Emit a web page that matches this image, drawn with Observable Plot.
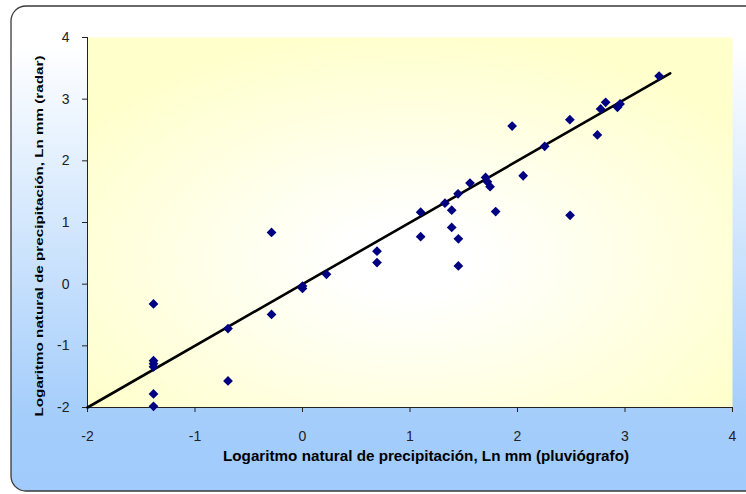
<!DOCTYPE html>
<html>
<head>
<meta charset="utf-8">
<script src="https://cdn.jsdelivr.net/npm/d3@7"></script>
<script src="https://cdn.jsdelivr.net/npm/@observablehq/plot@0.6"></script>
<style>
  html, body { margin: 0; padding: 0; background: #ffffff; }
  #chart { width: 746px; height: 494px; overflow: hidden; }
</style>
</head>
<body>
<div id="chart"></div>
<script>
// Ln mm (pluviógrafo)
const xValues = [-1.386, -1.386, -1.386, -1.386, -1.386, -1.386, -0.693, -0.693, -0.288, -0.288,
  0, 0, 0.223, 0.693, 0.693, 1.099, 1.099, 1.325, 1.388, 1.388,
  1.447, 1.45, 1.45, 1.558, 1.703, 1.72, 1.745, 1.797, 1.95, 2.053,
  2.253, 2.487, 2.489, 2.743, 2.773, 2.82, 2.93, 2.954, 3.317];
// Ln mm (radar)
const yValues = [-0.32, -1.24, -1.29, -1.34, -1.78, -1.98, -0.72, -1.57, 0.838, -0.49,
  -0.03, -0.07, 0.16, 0.535, 0.35, 1.167, 0.77, 1.313, 1.2, 0.92,
  1.465, 0.736, 0.296, 1.64, 1.73, 1.66, 1.58, 1.178, 2.563, 1.758,
  2.236, 2.667, 1.117, 2.42, 2.841, 2.948, 2.867, 2.922, 3.375];
// line y = x
const lineX = [-2, 3.42];
const lineY = [-2, 3.42];
const xTicks = [-2, -1, 0, 1, 2, 3, 4];
const yTicks = [-2, -1, 0, 1, 2, 3, 4];
const xTitle = "Logaritmo natural de precipitación, Ln mm (pluviógrafo)";
const yTitle = "Logaritmo natural de precipitación, Ln mm (radar)";

const points = xValues.map((x, i) => ({x, y: yValues[i]}));
const linePts = lineX.map((x, i) => ({x, y: lineY[i]}));
const fmt = d => String(d);

const chart = Plot.plot({
  width: 746,
  height: 494,
  marginLeft: 87,
  marginRight: 14,
  marginTop: 37,
  marginBottom: 87,
  style: {background: "transparent", fontFamily: "'Liberation Sans', Arial, sans-serif", fontSize: "14px", overflow: "visible"},
  x: {domain: [-2, 4]},
  y: {domain: [-2, 4]},
  marks: [
    Plot.frame({fill: "url(#outerGrad)", stroke: "#3a3a3a", strokeWidth: 1.3, rx: 15,
      insetLeft: -76.5, insetTop: -31.5, insetRight: -40, insetBottom: -83.5}),
    Plot.frame({fill: "url(#plotGrad)", stroke: null}),
    Plot.ruleX([-2], {stroke: "#222", strokeWidth: 1}),
    Plot.ruleY([-2], {stroke: "#222", strokeWidth: 1}),
    Plot.axisX({ticks: xTicks, tickFormat: fmt, tickSize: 5, tickPadding: 19, label: null, stroke: "#222", fill: "#222", fontSize: 14}),
    Plot.axisY({ticks: yTicks, tickFormat: fmt, tickSize: 5, tickPadding: 13, label: null, stroke: "#222", fill: "#222", fontSize: 14}),
    Plot.line(linePts, {x: "x", y: "y", stroke: "#000", strokeWidth: 2.6}),
    Plot.dot(points, {x: "x", y: "y", symbol: "diamond2", r: 4.4, fill: "#000080", stroke: null}),
    Plot.text([xTitle], {text: d => d, frameAnchor: "bottom", textAnchor: "start", dx: -187, dy: 53, fontWeight: "bold", fontSize: 15, fill: "#000", className: "xtitle"}),
    Plot.text([yTitle], {text: d => d, frameAnchor: "left", textAnchor: "start", rotate: -90, dx: -48, dy: 194, fontWeight: "bold", fontSize: 11, fill: "#000", className: "ytitle"})
  ]
});

const svg = d3.select(chart);
const defs = svg.insert("defs", ":first-child");
const og = defs.append("linearGradient").attr("id", "outerGrad").attr("x1", 0).attr("y1", 0).attr("x2", 0).attr("y2", 1);
og.append("stop").attr("offset", "0").attr("stop-color", "#ffffff");
og.append("stop").attr("offset", "0.08").attr("stop-color", "#ffffff");
og.append("stop").attr("offset", "0.85").attr("stop-color", "#a4cdfb");
og.append("stop").attr("offset", "1").attr("stop-color", "#a0cbfc");
const pg = defs.append("radialGradient").attr("id", "plotGrad").attr("cx", 0.5).attr("cy", 0.6).attr("r", 0.62);
pg.append("stop").attr("offset", "0").attr("stop-color", "#ffffff");
pg.append("stop").attr("offset", "0.15").attr("stop-color", "#ffffff");
pg.append("stop").attr("offset", "1").attr("stop-color", "#ffffcc");

svg.selectAll(".xtitle text").attr("textLength", 406).attr("lengthAdjust", "spacingAndGlyphs");
svg.selectAll(".ytitle text").attr("textLength", 361).attr("lengthAdjust", "spacingAndGlyphs");

document.getElementById("chart").appendChild(chart);
</script>
</body>
</html>
